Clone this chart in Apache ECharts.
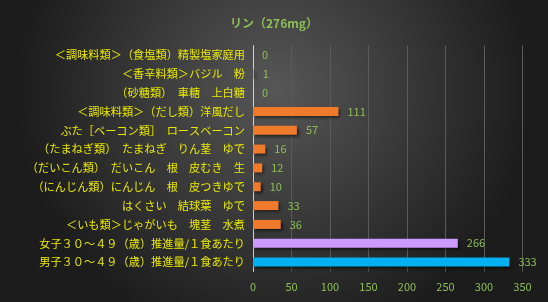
<!DOCTYPE html>
<html><head><meta charset="utf-8">
<script src="https://cdn.jsdelivr.net/npm/echarts@6/dist/echarts.min.js"></script>
<style>html,body{margin:0;padding:0;background:#2a2a2a}#c{width:548px;height:302px}</style>
</head><body><div id="c"></div>
<script>
const titleText = 'リン（276mg）';
const categories = [
  '＜調味料類＞（食塩類）精製塩家庭用',
  '＜香辛料類＞バジル　粉',
  '（砂糖類）　車糖　上白糖',
  '＜調味料類＞（だし類）洋風だし',
  'ぶた［ベーコン類］　ロースベーコン',
  '（たまねぎ類）　たまねぎ　りん茎　ゆで',
  '（だいこん類）　だいこん　根　皮むき　生',
  '（にんじん類）にんじん　根　皮つきゆで',
  'はくさい　結球葉　ゆで',
  '＜いも類＞じゃがいも　塊茎　水煮',
  '女子３０～４９（歳）推進量/１食あたり',
  '男子３０～４９（歳）推進量/１食あたり'
];
const values = [0, 1, 0, 111, 57, 16, 12, 10, 33, 36, 266, 333];
const barColors = ['#F07A2C','#F07A2C','#F07A2C','#F07A2C','#F07A2C','#F07A2C','#F07A2C','#F07A2C','#F07A2C','#F07A2C','#CC99FF','#00B0F0'];
const xTicks = [0, 50, 100, 150, 200, 250, 300, 350];

const chart = echarts.init(document.getElementById('c'));
chart.setOption({
  animation: false,
  backgroundColor: {
    type: 'radial', x: 0.5, y: 0.3, r: 0.85,
    colorStops: [{offset: 0, color: '#575757'}, {offset: 1, color: '#1c1c1c'}]
  },
  title: {
    text: titleText, left: 'center', top: 12,
    textStyle: {color: '#8DBF55', fontSize: 12, fontWeight: 'bold', fontFamily: 'Noto Sans CJK JP'}
  },
  grid: {left: 253, right: 25.5, top: 45.5, bottom: 30.5, containLabel: false},
  xAxis: {
    type: 'value', min: 0, max: 350, interval: 50,
    axisLine: {show: false}, axisTick: {show: false},
    splitLine: {lineStyle: {color: '#5a5a5a', width: 1}},
    axisLabel: {color: '#8DBF55', fontSize: 11, margin: 10, fontFamily: 'Noto Sans CJK JP',
      formatter: v => xTicks.includes(v) ? String(v) : ''}
  },
  yAxis: {
    type: 'category', data: categories, inverse: true,
    axisLine: {show: true, lineStyle: {color: '#cfcfcf', width: 1}},
    axisTick: {show: false},
    axisLabel: {color: '#E8E800', fontSize: 11.2, margin: 8, fontFamily: 'Noto Sans CJK JP'}
  },
  series: [{
    type: 'bar', barWidth: 9,
    data: values.map((v, i) => ({value: v, itemStyle: {color: barColors[i]}})),
    itemStyle: {shadowColor: 'rgba(0,0,0,0.6)', shadowBlur: 3, shadowOffsetX: 2, shadowOffsetY: 2},
    label: {show: true, position: 'right', distance: 9, color: '#8DBF55', fontSize: 11, fontFamily: 'Noto Sans CJK JP'}
  }]
});
</script></body></html>
